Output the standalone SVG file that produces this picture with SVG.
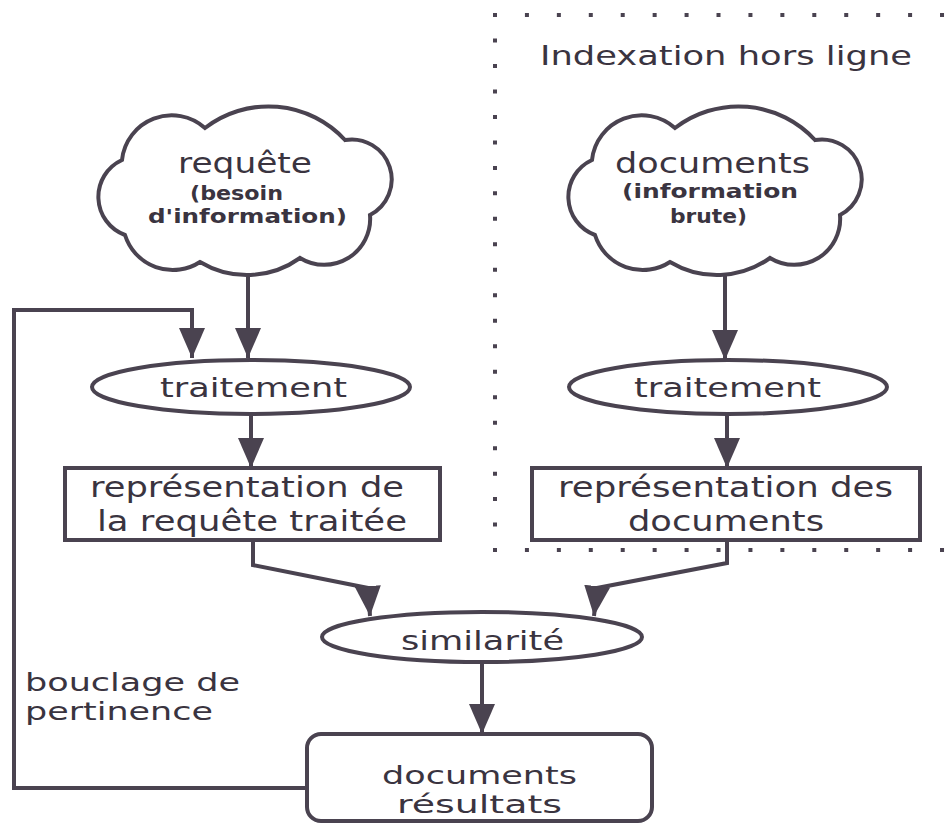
<svg xmlns="http://www.w3.org/2000/svg" width="946" height="824" viewBox="0 0 946 824">
  <style>
    .ln { fill: none; stroke: #4a4350; stroke-width: 4; stroke-linejoin: miter; }
    .shape { fill: #ffffff; stroke: #4a4350; stroke-width: 4; }
    .t { font-family: "DejaVu Sans", Verdana, sans-serif; fill: #3a3440; }
    .big { font-size: 28px; }
    .mid { font-size: 27px; }
    .tight { font-size: 25px; }
    .small { font-size: 19px; font-weight: bold; }
    .dots-h { fill: none; stroke: #4a4350; stroke-width: 4; stroke-dasharray: 4 27.93; }
    .dots-v { fill: none; stroke: #4a4350; stroke-width: 4; stroke-dasharray: 4 21.48; }
  </style>
  <defs>
    <marker id="arrow" viewBox="0 0 30 26" refX="30" refY="13" markerWidth="30" markerHeight="26" markerUnits="userSpaceOnUse" orient="auto">
      <path d="M0,0 L30,13 L0,26 Z" fill="#4a4350"/>
    </marker>
    <!-- cloud outline, drawn for the box 97..398 x 107..270 -->
    <path id="cloudShape" d="M122,160 A50,50 0 0 1 205,128 A104,104 0 0 1 345,140 A40,40 0 0 1 370,215 A46,46 0 0 1 300,258 A91,91 0 0 1 200,262 A50,50 0 0 1 125,235 A40.6,40.6 0 0 1 122,160 Z"/>
  </defs>

  <rect width="946" height="824" fill="#ffffff"/>

  <!-- offline indexing zone: dotted frame -->
  <g id="zone-indexation">
    <path class="dots-h" d="M493,15 H946"/>
    <path class="dots-v" d="M495,13 V552"/>
    <path class="dots-h" d="M493,550 H946"/>
    <text class="t mid" x="540" y="65" textLength="372" lengthAdjust="spacingAndGlyphs">Indexation hors ligne</text>
  </g>

  <!-- connectors -->
  <g id="connectors">
    <path class="ln" d="M248,270 V358" marker-end="url(#arrow)"/>
    <path class="ln" d="M307,788 H14 V310 H192 V358" marker-end="url(#arrow)"/>
    <path class="ln" d="M251,415 V468" marker-end="url(#arrow)"/>
    <path class="ln" d="M725,270 V360" marker-end="url(#arrow)"/>
    <path class="ln" d="M727,415 V468" marker-end="url(#arrow)"/>
    <path class="ln" d="M253,540 V565 L368,588 L370,616" marker-end="url(#arrow)"/>
    <path class="ln" d="M727,540 V563 L597,588 L594,616" marker-end="url(#arrow)"/>
    <path class="ln" d="M482,662 V734" marker-end="url(#arrow)"/>
  </g>

  <g id="requete">
    <use href="#cloudShape" class="shape"/>
    <text class="t big" x="178" y="173" textLength="134" lengthAdjust="spacingAndGlyphs">requête</text>
    <text class="t small" x="190" y="200" textLength="93" lengthAdjust="spacingAndGlyphs">(besoin</text>
    <text class="t small" x="148" y="223" textLength="199" lengthAdjust="spacingAndGlyphs">d'information)</text>
  </g>

  <g id="documents">
    <use href="#cloudShape" class="shape" transform="translate(470,0)"/>
    <text class="t big" x="615" y="173" textLength="195" lengthAdjust="spacingAndGlyphs">documents</text>
    <text class="t small" x="622" y="198" textLength="176" lengthAdjust="spacingAndGlyphs">(information</text>
    <text class="t small" x="670" y="223" textLength="77" lengthAdjust="spacingAndGlyphs">brute)</text>
  </g>

  <g id="traitement-requete">
    <ellipse class="shape" cx="251" cy="387" rx="159" ry="27"/>
    <text class="t mid" x="160" y="397" textLength="187" lengthAdjust="spacingAndGlyphs">traitement</text>
  </g>

  <g id="traitement-documents">
    <ellipse class="shape" cx="728" cy="387" rx="159" ry="27"/>
    <text class="t mid" x="634" y="397" textLength="187" lengthAdjust="spacingAndGlyphs">traitement</text>
  </g>

  <g id="representation-requete">
    <rect class="shape" x="65" y="468" width="375" height="72"/>
    <text class="t big" x="90" y="497" textLength="314" lengthAdjust="spacingAndGlyphs">représentation de</text>
    <text class="t big" x="97" y="531" textLength="310" lengthAdjust="spacingAndGlyphs">la requête traitée</text>
  </g>

  <g id="representation-documents">
    <rect class="shape" x="532" y="468" width="388" height="72"/>
    <text class="t big" x="558" y="497" textLength="335" lengthAdjust="spacingAndGlyphs">représentation des</text>
    <text class="t big" x="628" y="531" textLength="196" lengthAdjust="spacingAndGlyphs">documents</text>
  </g>

  <g id="similarite">
    <ellipse class="shape" cx="482" cy="637" rx="160" ry="25"/>
    <text class="t mid" x="401" y="650" textLength="163" lengthAdjust="spacingAndGlyphs">similarité</text>
  </g>

  <g id="documents-resultats">
    <rect class="shape" x="307" y="734" width="345" height="87" rx="14" ry="14"/>
    <text class="t tight" x="382" y="784" textLength="195" lengthAdjust="spacingAndGlyphs">documents</text>
    <text class="t tight" x="397" y="813" textLength="165" lengthAdjust="spacingAndGlyphs">résultats</text>
  </g>

  <g id="bouclage">
    <text class="t tight" x="25" y="691" textLength="215" lengthAdjust="spacingAndGlyphs">bouclage de</text>
    <text class="t tight" x="25" y="720" textLength="188" lengthAdjust="spacingAndGlyphs">pertinence</text>
  </g>
</svg>
